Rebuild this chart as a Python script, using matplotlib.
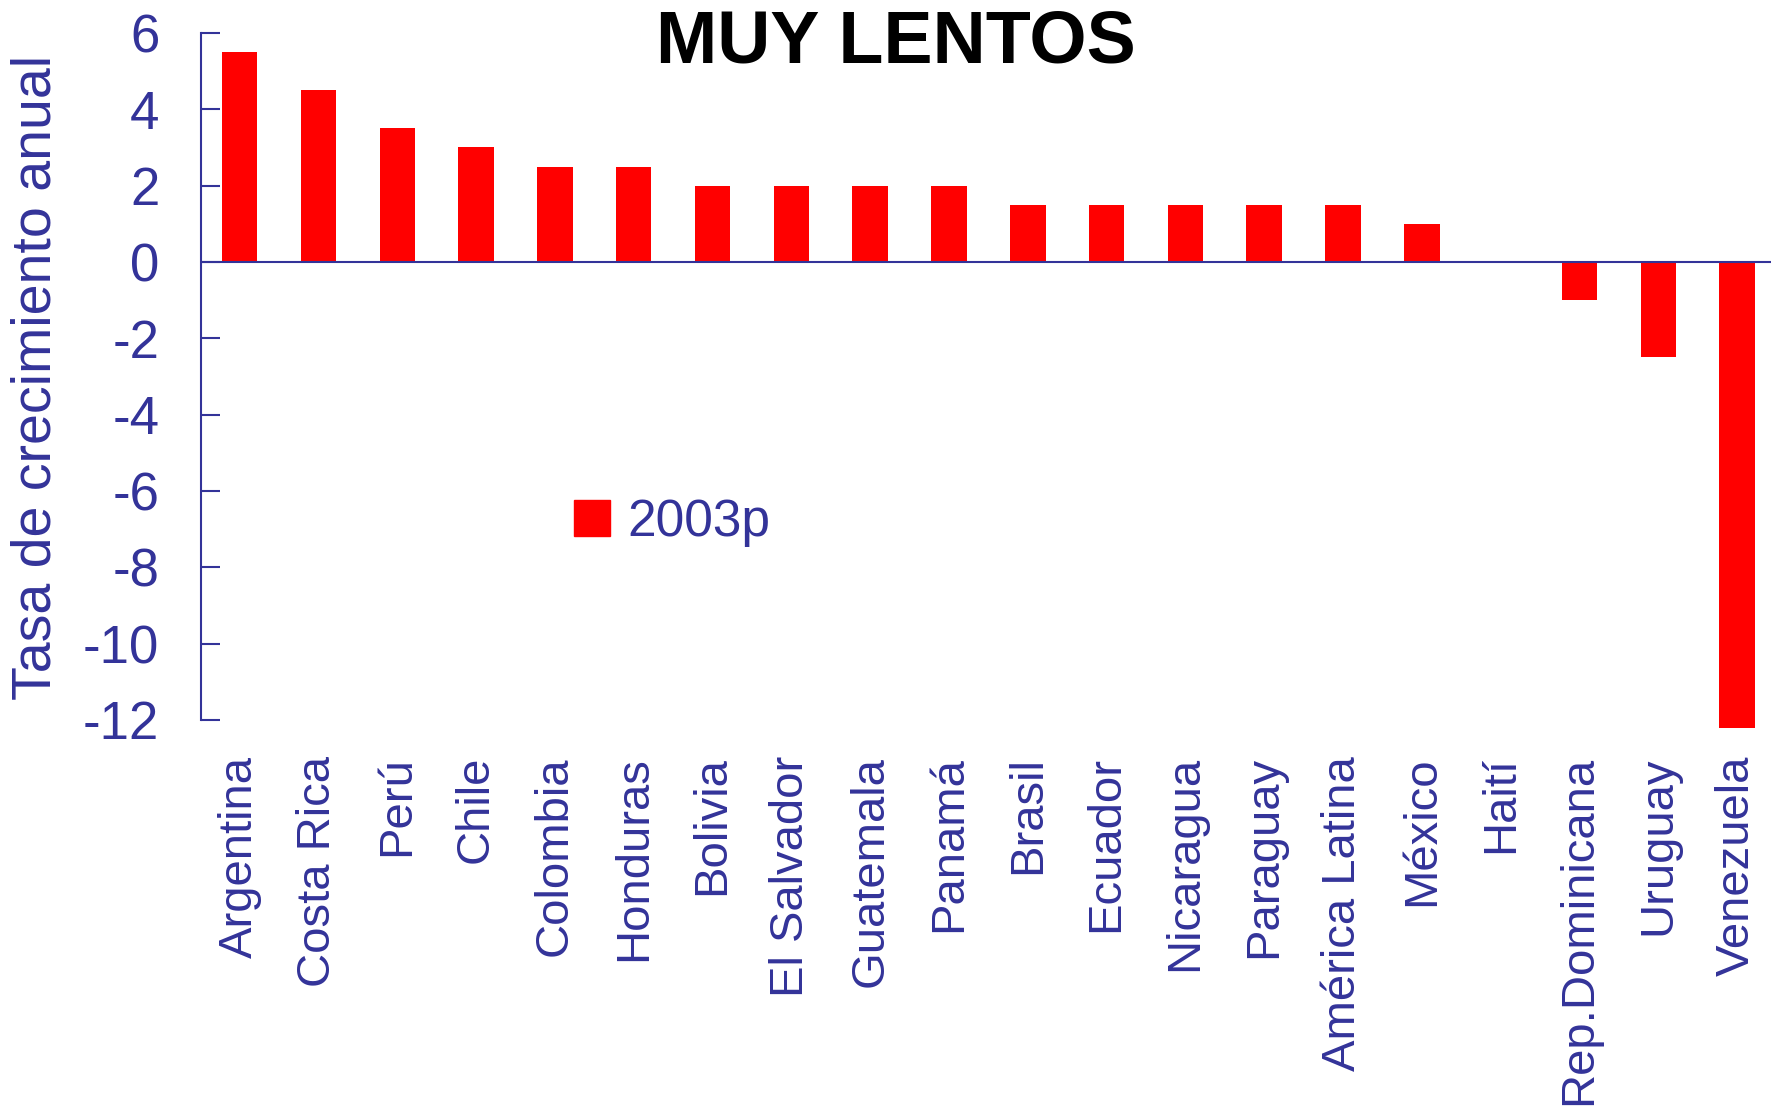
import matplotlib as mpl
import matplotlib.pyplot as plt
from matplotlib.patches import Patch

mpl.use('Agg')
plt.rcParams['font.family'] = ['Liberation Sans', 'DejaVu Sans']

paises = ["Argentina", "Costa Rica", "Perú", "Chile", "Colombia", "Honduras",
          "Bolivia", "El Salvador", "Guatemala", "Panamá", "Brasil", "Ecuador",
          "Nicaragua", "Paraguay", "América Latina", "México", "Haití",
          "Rep.Dominicana", "Uruguay", "Venezuela"]
crecimiento = [5.5, 4.5, 3.5, 3.0, 2.5, 2.5, 2.0, 2.0, 2.0, 2.0, 1.5, 1.5,
               1.5, 1.5, 1.5, 1.0, 0.0, -1.0, -2.5, -12.2]
yticks = [6, 4, 2, 0, -2, -4, -6, -8, -10, -12]

azul = '#333399'
rojo = '#FF0000'

fig = plt.figure(figsize=(17.71, 11.10), dpi=100)
ax = fig.add_axes([0.1135, 0.3514, 0.8865, 0.6189])

x = range(len(paises))
ax.bar(x, crecimiento, width=0.45, color=rojo, clip_on=False, zorder=2)
ax.axhline(0, color=azul, lw=1.5, zorder=3)

ax.set_xlim(-0.49, 19.43)
ax.set_ylim(-12, 6)
ax.set_yticks(yticks)
ax.set_yticklabels([str(t) for t in yticks])
ax.set_xticks(list(x))
ax.set_xticklabels(paises, rotation=90, fontsize=34, color=azul, va='top', ha='center')

for s in ['top', 'right', 'bottom']:
    ax.spines[s].set_visible(False)
ax.spines['left'].set_color(azul)
ax.spines['left'].set_linewidth(1.5)
ax.tick_params(axis='y', direction='in', length=13.5, width=1.5, color=azul,
               labelsize=38, labelcolor=azul, pad=30)
ax.tick_params(axis='x', length=0, pad=26)

# etiqueta del eje y
fig.text(37 / 1771, 0.66, "Tasa de crecimiento anual", fontsize=40, color=azul,
         rotation=90, ha='center', va='center')

fig.text(0.506, 0.944, "MUY LENTOS", fontsize=53, fontweight='bold',
         color='black', ha='center', va='baseline')

leg = ax.legend(handles=[Patch(color=rojo, label='2003p')], frameon=False,
                loc='center left', bbox_to_anchor=(574 / 1771, 1 - 522 / 1110),
                bbox_transform=fig.transFigure, fontsize=37, borderpad=0,
                borderaxespad=0, handlelength=0.7, handleheight=0.7,
                handletextpad=0.33)
for t in leg.get_texts():
    t.set_color(azul)

fig.savefig('out.png', dpi=100)
